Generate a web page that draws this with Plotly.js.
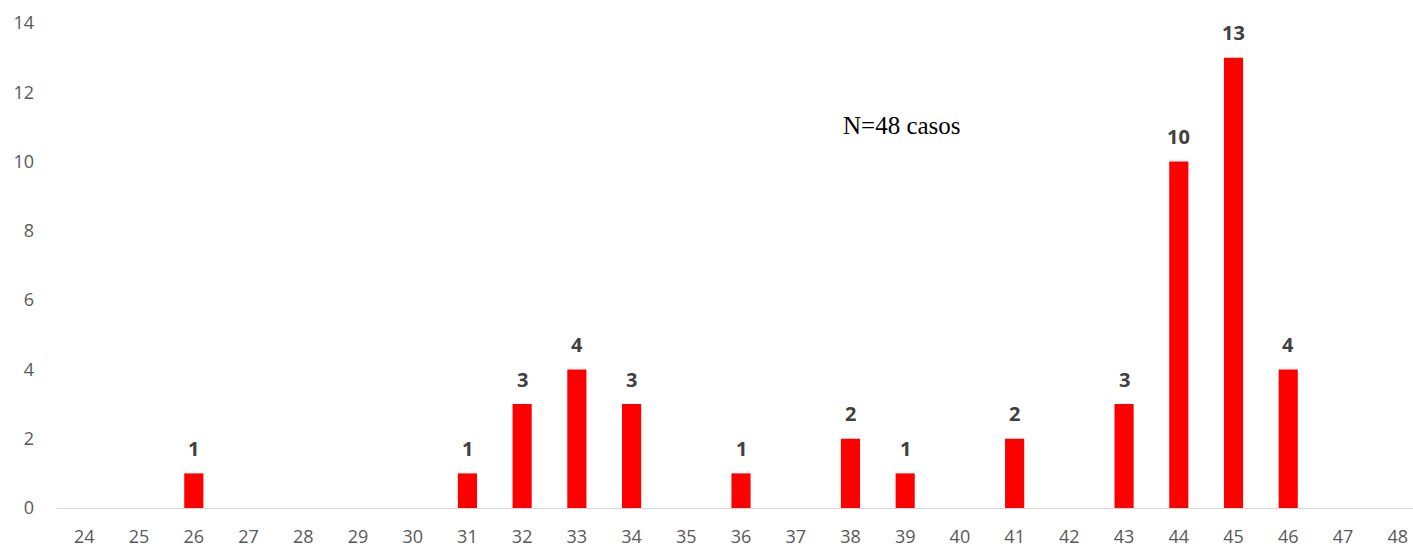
<!DOCTYPE html>
<html>
<head>
<meta charset="utf-8">
<script src="https://cdn.plot.ly/plotly-3.0.1.min.js"></script>
<style>html,body{margin:0;padding:0;background:#fff;overflow:hidden}#chart{width:1413px;height:548px}</style>
</head>
<body>
<div id="chart"></div>
<script>
const weeks = ["24","25","26","27","28","29","30","31","32","33","34","35","36","37","38","39","40","41","42","43","44","45","46","47","48"];
const cases = [0,0,1,0,0,0,0,1,3,4,3,0,1,0,2,1,0,2,0,3,10,13,4,0,0];
const noteText = "N=48 casos";
const yTicks = [0,2,4,6,8,10,12,14];

const labelAnnotations = [];
cases.forEach((v, i) => {
  if (v > 0) {
    labelAnnotations.push({
      x: i, y: v, xref: 'x', yref: 'y',
      text: '<b>' + v + '</b>', showarrow: false,
      xanchor: 'center', yanchor: 'middle', yshift: 25,
      font: {family: 'Open Sans, sans-serif', size: 20, color: '#404040'}
    });
  }
});
labelAnnotations.push({
  xref: 'paper', yref: 'paper', x: 0.578, y: 0.789,
  xanchor: 'left', yanchor: 'middle', showarrow: false,
  text: noteText,
  font: {family: 'Liberation Serif, Times New Roman, serif', size: 25, color: '#000000'}
});

const trace = {
  type: 'bar', x: weeks, y: cases,
  marker: {color: '#FF0000'},
  hoverinfo: 'x+y'
};

const layout = {
  width: 1413, height: 548,
  margin: {l: 57, r: 0, t: 23, b: 40},
  paper_bgcolor: '#ffffff', plot_bgcolor: '#ffffff',
  bargap: 0.65,
  showlegend: false,
  xaxis: {
    type: 'category', range: [-0.5, 24.28],
    showgrid: false, zeroline: false,
    showline: true, linecolor: '#d9d9d9', linewidth: 1.3,
    ticks: '', ticklabelstandoff: 12,
    tickfont: {family: 'Open Sans, sans-serif', size: 18, color: '#595959'}
  },
  yaxis: {
    range: [0, 14], tickvals: yTicks,
    showgrid: false, zeroline: false, showline: false,
    ticks: '', ticklabelstandoff: 22,
    tickfont: {family: 'Open Sans, sans-serif', size: 18, color: '#595959'}
  },
  annotations: labelAnnotations
};

Plotly.newPlot('chart', [trace], layout, {displayModeBar: false, staticPlot: true});
</script>
</body>
</html>
